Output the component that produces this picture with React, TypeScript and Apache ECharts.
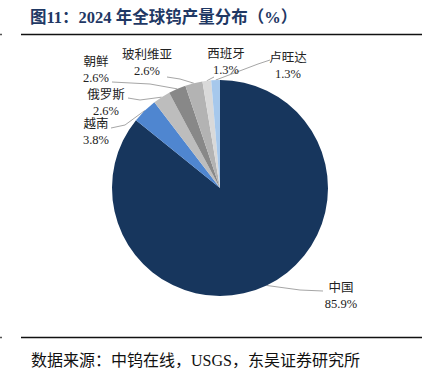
import React, { useEffect, useRef } from "react";
import * as echarts from "echarts";

const categories = ["中国", "越南", "俄罗斯", "朝鲜", "玻利维亚", "西班牙", "卢旺达"];
const values = [85.9, 3.8, 2.6, 2.6, 2.6, 1.3, 1.3];
const colors = ["#17365d", "#4f86d0", "#bdbdbd", "#888888", "#b3b3b3", "#d9d9d9", "#a6c8ec"];

// label placement (layout only)
const labelCenters: [number, number][] = [
  [341, 296],
  [96, 132],
  [106, 103],
  [96, 70],
  [147, 63],
  [226, 62],
  [288, 66],
];
const labelBends: [number, number][][] = [
  [[300, 290], [323, 291]],
  [[125, 125], [111, 128]],
  [[140, 100], [128, 98]],
  [[150, 84], [112, 82]],
  [[180, 79], [167, 77]],
  [[212, 78], [214, 77]],
  [[258, 64], [270, 60]],
];

const TITLE = "图11：2024 年全球钨产量分布（%）";
const SOURCE = "数据来源：中钨在线，USGS，东吴证券研究所";

export default function App() {
  const ref = useRef<HTMLDivElement>(null);
  useEffect(() => {
    document.body.style.margin = "0";
    const chart = echarts.init(ref.current!, null, { renderer: "svg" });
    const font = "'Liberation Serif', 'Noto Sans CJK SC', serif";
    chart.setOption({
      animation: false,
      backgroundColor: "#ffffff",
      graphic: [
        {
          type: "text",
          left: 30,
          top: 9,
          style: {
            text: TITLE,
            fill: "#1f3864",
            font: "bold 16.5px " + font,
          },
        },
        { type: "line", shape: { x1: 21, y1: 34.5, x2: 422, y2: 34.5 }, style: { stroke: "#111", lineWidth: 1.5 } },
        { type: "line", shape: { x1: 0, y1: 34.5, x2: 2, y2: 34.5 }, style: { stroke: "#555", lineWidth: 1.5 } },
        { type: "line", shape: { x1: 21, y1: 337.5, x2: 422, y2: 337.5 }, style: { stroke: "#111", lineWidth: 1.5 } },
        { type: "line", shape: { x1: 0, y1: 337.5, x2: 2, y2: 337.5 }, style: { stroke: "#555", lineWidth: 1.5 } },
        {
          type: "text",
          left: 31,
          top: 352,
          style: { text: SOURCE, fill: "#111", font: "16px " + font },
        },
      ],
      series: [
        {
          type: "pie",
          center: [220, 188],
          radius: [0, 108],
          startAngle: 90,
          clockwise: true,
          data: categories.map((n, i) => ({
            name: n,
            value: values[i],
            itemStyle: { color: colors[i] },
          })),
          label: {
            show: true,
            position: "outside",
            formatter: (p: any) => p.name + "\n" + p.value.toFixed(1) + "%",
            fontSize: 12.5,
            lineHeight: 16,
            fontFamily: font,
            color: "#222",
            align: "center",
          },
          labelLine: {
            show: true,
            length: 10,
            length2: 10,
            lineStyle: { color: "#a6a6a6", width: 1 },
          },
          labelLayout: (params: any) => {
            const i = params.dataIndex;
            const start = params.labelLinePoints ? params.labelLinePoints[0] : [0, 0];
            const b = labelBends[i];
            return {
              x: labelCenters[i][0],
              y: labelCenters[i][1],
              align: "center",
              verticalAlign: "middle",
              labelLinePoints: [start, b[0], b[1]],
            };
          },
        },
      ],
    });
    return () => chart.dispose();
  }, []);
  return <div ref={ref} style={{ width: 433, height: 383 }} />;
}
